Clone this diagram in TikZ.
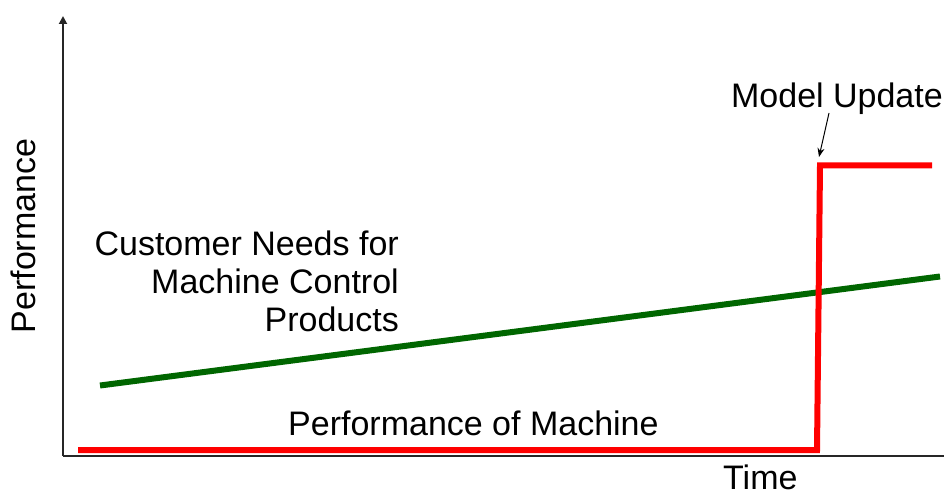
\documentclass[tikz,border=0pt]{standalone}
\usepackage{fontspec}
\setmainfont{Liberation Sans}
\usetikzlibrary{arrows.meta}
\definecolor{needgreen}{RGB}{0,102,0}
\definecolor{perfred}{RGB}{255,0,0}
\begin{document}
\begin{tikzpicture}[x=1pt,y=-1pt,
    axis/.style={line width=1.8pt,black!85},
    lbl/.style={inner sep=0pt,font=\fontsize{34}{38}\selectfont},
    needline/.style={line width=6pt,needgreen},
    perfline/.style={line width=6pt,perfred,line join=miter},
    pointer/.style={line width=1pt,-{Stealth[length=9pt,width=7pt]}}]
  \useasboundingbox (0,0) rectangle (944,497);

  % axes
  \coordinate (origin) at (63,456);
  \coordinate (ytop) at (63,16);
  \coordinate (xend) at (944,456);
  \draw[axis,-{Triangle[length=8pt,width=8pt]}] (origin) -- (ytop);
  \draw[axis] (origin) -- (xend);

  % customer needs trend
  \coordinate (g0) at (100,385.5);
  \coordinate (g1) at (940,276.5);
  \draw[needline] (g0) -- (g1);

  % machine performance with step at the model update
  \coordinate (r0) at (78,450);
  \coordinate (r1) at (817,450);
  \coordinate (r2) at (820,165.5);
  \coordinate (r3) at (932,165.5);
  \draw[perfline] (r0) -- (r1) -- (r2) -- (r3);

  % labels
  \node[lbl,anchor=base east] (upd) at (943,108) {Model Update};
  \coordinate (updtip) at (819,157);
  \coordinate (updtail) at (829,113);
  \draw[pointer] (updtail) -- (updtip);

  \node[lbl,anchor=base east] (c1) at (399,255) {Customer Needs for};
  \node[lbl,anchor=base east] (c2) at (399,293) {Machine Control};
  \node[lbl,anchor=base east] (c3) at (399,331) {Products};

  \node[lbl,anchor=base west] (pm) at (288,435) {Performance of Machine};
  \node[lbl,anchor=base west] (time) at (723,489) {Time};
  \node[lbl,anchor=base,rotate=90] (perf) at (35,236) {Performance};
\end{tikzpicture}
\end{document}
